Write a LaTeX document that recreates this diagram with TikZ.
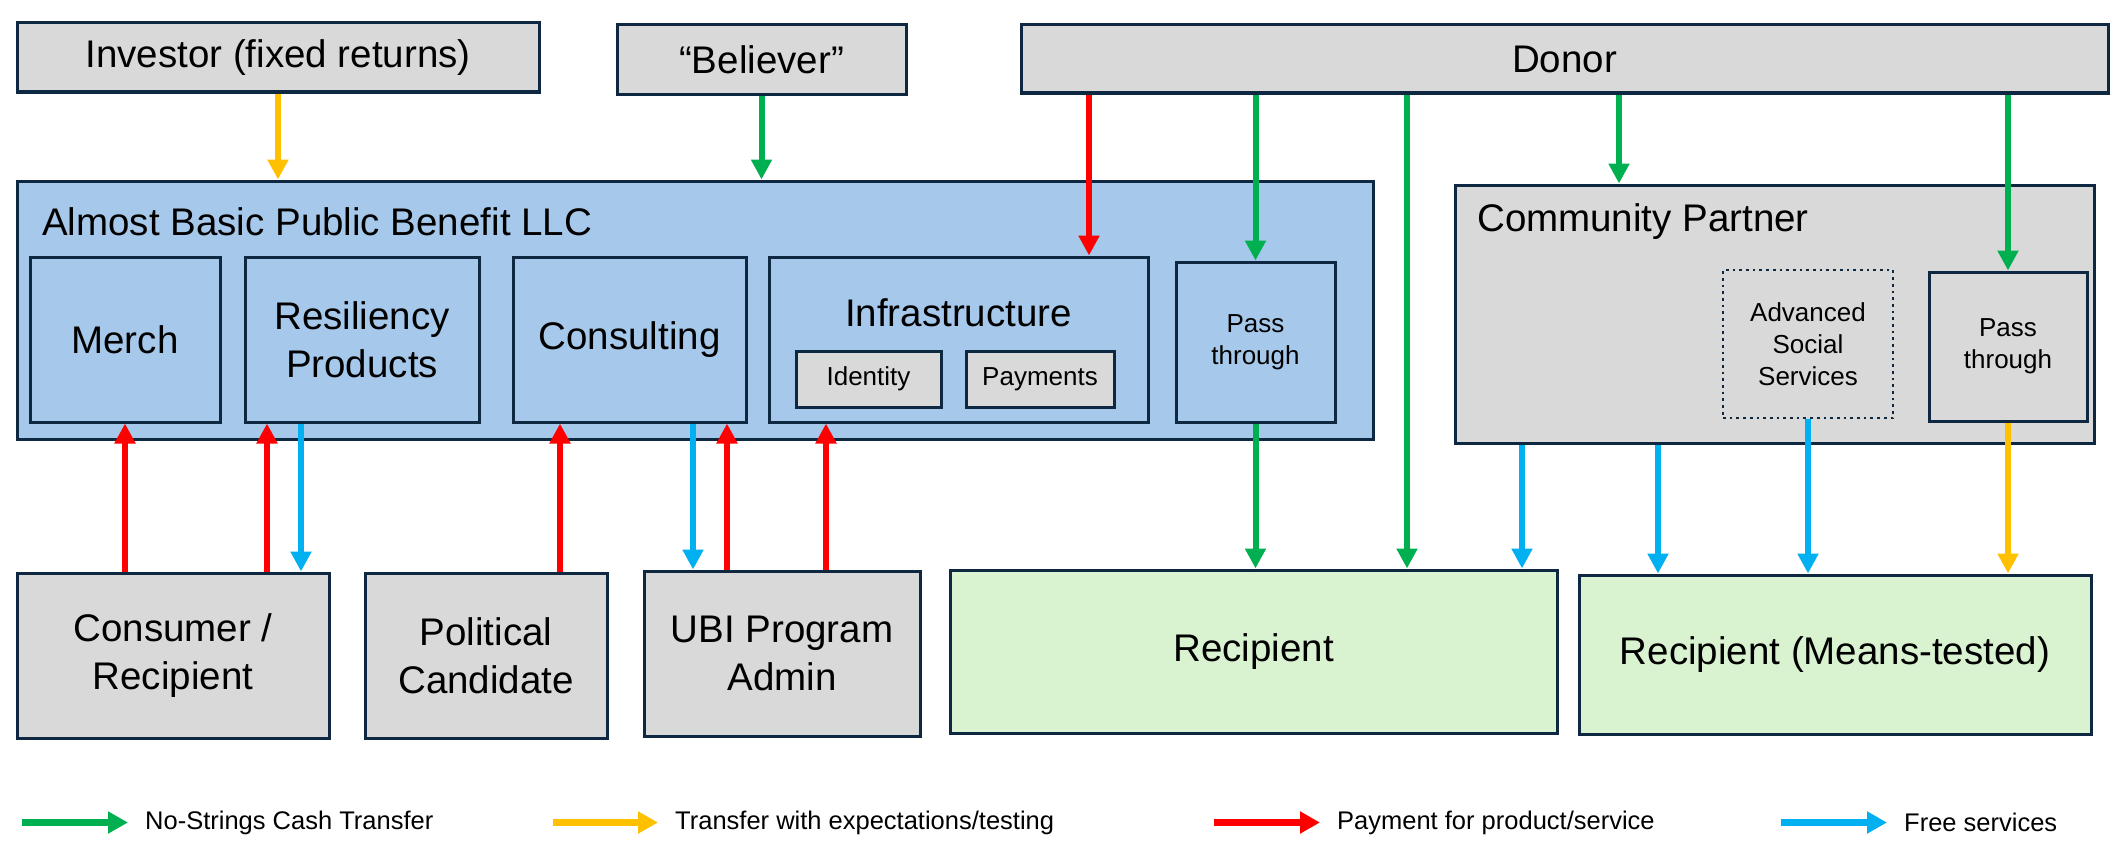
\documentclass[tikz,border=0pt]{standalone}
\usepackage{fontspec}
\setmainfont{Liberation Sans}
\usetikzlibrary{arrows.meta,positioning}
\definecolor{boxline}{HTML}{0E2841}
\definecolor{boxgray}{HTML}{D9D9D9}
\definecolor{boxblue}{HTML}{A6C8EB}
\definecolor{boxgreen}{HTML}{D9F2D0}
\definecolor{cashgreen}{HTML}{00B050}
\definecolor{expectgold}{HTML}{FFC000}
\definecolor{payred}{HTML}{FF0000}
\definecolor{freeblue}{HTML}{00B0F0}
\newcommand\bigtext{\fontsize{38.5}{48}\selectfont}
\newcommand\smalltext{\fontsize{26}{32}\selectfont}
\newcommand\keyfont{\fontsize{25.5}{30}\selectfont}
\tikzset{
	graybox/.style={draw=boxline, line width=3pt, fill=boxgray, inner sep=0pt, align=center, font=\bigtext},
	bluebox/.style={graybox, fill=boxblue},
	greenbox/.style={graybox, fill=boxgreen},
	smallbox/.style={graybox, font=\smalltext},
	dotbox/.style={smallbox, line width=2.7pt, dash pattern=on 2.7pt off 4pt},
	flow/.style={line width=6pt, -{Triangle[length=20pt,width=20pt]}},
	cashline/.style={flow, color=cashgreen},
	expectline/.style={flow, color=expectgold},
	payline/.style={flow, color=payred},
	freeline/.style={flow, color=freeblue},
	keyline/.style={line width=7.5pt, -{Triangle[length=20pt,width=21pt]}},
	keytext/.style={inner sep=0pt, font=\keyfont}
}

\begin{document}
\begin{tikzpicture}[x=1pt, y=-1pt]
		%%%%% START %%%%%
		\useasboundingbox (0,0) rectangle (2113,859);
		
		\node[graybox, minimum width=522pt, minimum height=69pt] (investor) at (278,57.5) {Investor (fixed returns)};
		\node[graybox, minimum width=289pt, minimum height=69pt] (believer) at (761.5,59.5) {``Believer''};
		\node[graybox, minimum width=1087pt, minimum height=68pt] (donor) at (1564.5,59) {Donor};
		
		\node[bluebox, minimum width=1356pt, minimum height=258pt] (llc) at (695,310) {};
		\node[anchor=west, inner sep=0pt, font=\bigtext] (llctitle) at (42,222) {Almost Basic Public Benefit LLC};
		\node[bluebox, minimum width=190pt, minimum height=165pt] (merch) at (125,339.5) {Merch};
		\node[bluebox, minimum width=234pt, minimum height=165pt] (resil) at (362,339.5) {Resiliency\\Products};
		\node[bluebox, minimum width=233pt, minimum height=165pt] (consult) at (629.5,339.5) {Consulting};
		\node[bluebox, minimum width=379pt, minimum height=165pt] (infra) at (958.5,339.5) {};
		\node[inner sep=0pt, font=\bigtext] (infratitle) at (958.5,313) {Infrastructure};
		\node[smallbox, minimum width=145pt, minimum height=56pt] (identity) at (868.5,379) {Identity};
		\node[smallbox, minimum width=148pt, minimum height=56pt] (payments) at (1040,379) {Payments};
		\node[bluebox, font=\smalltext, minimum width=159pt, minimum height=160pt] (llcpass) at (1255.5,342) {Pass\\through};
		
		\node[graybox, minimum width=639pt, minimum height=258pt] (cp) at (1774.5,314) {};
		\node[anchor=west, inner sep=0pt, font=\bigtext] (cptitle) at (1477,222) {Community Partner};
		\node[dotbox, minimum width=170pt, minimum height=148pt] (adv) at (1808,344) {Advanced\\Social\\Services};
		\node[smallbox, minimum width=158pt, minimum height=149pt] (cppass) at (2008,346.5) {Pass\\through};
		
		\node[graybox, minimum width=312pt, minimum height=165pt] (consumer) at (173,655.5) {Consumer /\\Recipient};
		\node[graybox, minimum width=242pt, minimum height=165pt] (political) at (486,655.5) {Political\\Candidate};
		\node[graybox, minimum width=276pt, minimum height=165pt] (ubi) at (782,653.5) {UBI Program\\Admin};
		\node[greenbox, minimum width=607pt, minimum height=163pt] (recip) at (1253.5,651.5) {Recipient};
		\node[greenbox, minimum width=512pt, minimum height=159pt] (means) at (1835,654.5) {Recipient (Means-tested)};
		
		% money and services into the LLC
		\draw[expectline] (investor.south) -- (investor.south |- llc.north);
		\draw[cashline] (believer.south) -- (believer.south |- llc.north);
		\draw[payline] (1089,0 |- donor.south) -- (1089,0 |- infra.north);
		\draw[cashline] (donor.south -| llcpass) -- (llcpass.north);
		\draw[cashline] (1407,0 |- donor.south) -- (1407,0 |- recip.north);
		\draw[cashline] (1619,0 |- donor.south) -- (1619,0 |- cp.north);
		\draw[cashline] (donor.south -| cppass) -- (cppass.north);
		
		\draw[cashline] (llcpass.south) -- (llcpass.south |- recip.north);
		\draw[freeline] (1522,0 |- cp.south) -- (1522,0 |- recip.north);
		\draw[freeline] (1658,0 |- cp.south) -- (1658,0 |- means.north);
		\draw[freeline] (adv.south) -- (adv.south |- means.north);
		\draw[expectline] (cppass.south) -- (cppass.south |- means.north);
		
		\draw[payline] (merch.south |- consumer.north) -- (merch.south);
		\draw[payline] (267,0 |- consumer.north) -- (267,0 |- resil.south);
		\draw[freeline] (301,0 |- resil.south) -- (301,0 |- consumer.north);
		\draw[payline] (560,0 |- political.north) -- (560,0 |- consult.south);
		\draw[freeline] (693,0 |- consult.south) -- (693,0 |- ubi.north);
		\draw[payline] (727,0 |- ubi.north) -- (727,0 |- consult.south);
		\draw[payline] (826,0 |- ubi.north) -- (826,0 |- infra.south);
		
		% key
		\coordinate (kcashA) at (22,822.5);
		\coordinate (kcashB) at (128,822.5);
		\draw[keyline, color=cashgreen] (kcashA) -- (kcashB);
		\node[keytext, right=17pt of kcashB] (kcash) {No-Strings Cash Transfer};
		
		\coordinate (kexpectA) at (553,822.5);
		\coordinate (kexpectB) at (658,822.5);
		\draw[keyline, color=expectgold] (kexpectA) -- (kexpectB);
		\node[keytext, right=17pt of kexpectB] (kexpect) {Transfer with expectations/testing};
		
		\coordinate (kpayA) at (1214,822.5);
		\coordinate (kpayB) at (1320,822.5);
		\draw[keyline, color=payred] (kpayA) -- (kpayB);
		\node[keytext, right=17pt of kpayB] (kpay) {Payment for product/service};
		
		\coordinate (kfreeA) at (1781,822.5);
		\coordinate (kfreeB) at (1887,822.5);
		\draw[keyline, color=freeblue] (kfreeA) -- (kfreeB);
		\node[keytext, right=17pt of kfreeB] (kfree) {Free services};
		
		%%%%% END %%%%%
	\end{tikzpicture}
\end{document}
